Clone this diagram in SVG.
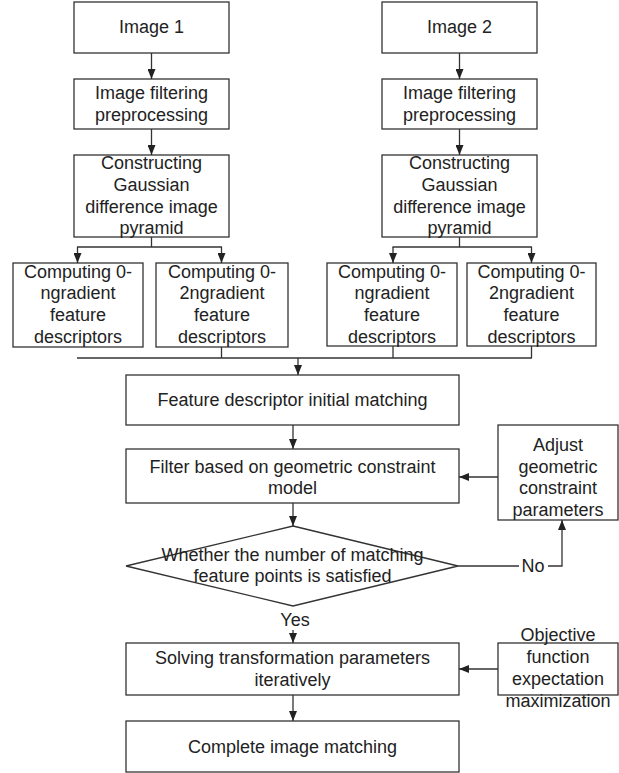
<svg xmlns="http://www.w3.org/2000/svg" width="619" height="773" viewBox="0 0 619 773">
<defs>
<marker id="ah" markerWidth="10" markerHeight="8" refX="10" refY="4" orient="auto" markerUnits="userSpaceOnUse">
<path d="M0,0 L10,4 L0,8 z" fill="#222"/>
</marker>
<style>
rect, polygon { fill: #fff; stroke: #333; stroke-width: 1.3; }
text { font-family: "Liberation Sans", Arial, sans-serif; font-size: 18px; fill: #222; text-anchor: middle; }
.c line, .c polyline { stroke: #333; stroke-width: 1.3; fill: none; }
.a { marker-end: url(#ah); }
</style>
</defs>
<rect x="0" y="0" width="619" height="773" style="fill:#fff;stroke:none"/>

<g id="image1"><rect x="74" y="2" width="155" height="51"/><text x="151.5" y="33">Image 1</text></g>
<g id="filter1"><rect x="74" y="79" width="155" height="50"/><text x="151.5" y="99">Image filtering</text><text x="151.5" y="121">preprocessing</text></g>
<g id="pyramid1"><rect x="74" y="155" width="155" height="82"/><text x="151.5" y="169">Constructing</text><text x="151.5" y="191">Gaussian</text><text x="151.5" y="213">difference image</text><text x="151.5" y="234">pyramid</text></g>
<g id="grad1a"><rect x="13" y="263" width="130" height="84"/><text x="78" y="278">Computing 0-</text><text x="78" y="299">ngradient</text><text x="78" y="321">feature</text><text x="78" y="343">descriptors</text></g>
<g id="grad1b"><rect x="156" y="263" width="132" height="84"/><text x="222" y="278">Computing 0-</text><text x="222" y="299">2ngradient</text><text x="222" y="321">feature</text><text x="222" y="343">descriptors</text></g>

<g id="image2"><rect x="382" y="2" width="155" height="51"/><text x="459.5" y="33">Image 2</text></g>
<g id="filter2"><rect x="382" y="79" width="155" height="50"/><text x="459.5" y="99">Image filtering</text><text x="459.5" y="121">preprocessing</text></g>
<g id="pyramid2"><rect x="382" y="155" width="155" height="82"/><text x="459.5" y="169">Constructing</text><text x="459.5" y="191">Gaussian</text><text x="459.5" y="213">difference image</text><text x="459.5" y="234">pyramid</text></g>
<g id="grad2a"><rect x="327" y="263" width="130" height="83"/><text x="392" y="278">Computing 0-</text><text x="392" y="299">ngradient</text><text x="392" y="321">feature</text><text x="392" y="343">descriptors</text></g>
<g id="grad2b"><rect x="467" y="263" width="129" height="83"/><text x="531.5" y="278">Computing 0-</text><text x="531.5" y="299">2ngradient</text><text x="531.5" y="321">feature</text><text x="531.5" y="343">descriptors</text></g>

<g id="initial"><rect x="126" y="375" width="333" height="50"/><text x="292.5" y="406">Feature descriptor initial matching</text></g>
<g id="geofilter"><rect x="126" y="449" width="333" height="54"/><text x="292.5" y="473">Filter based on geometric constraint</text><text x="292.5" y="494">model</text></g>
<g id="adjust"><rect x="498" y="425" width="120" height="95"/><text x="558" y="451">Adjust</text><text x="558" y="473">geometric</text><text x="558" y="494">constraint</text><text x="558" y="516">parameters</text></g>
<g id="decision"><polygon points="293,526 458,566 293,606 126,566"/><text x="292.5" y="561">Whether the number of matching</text><text x="292.5" y="582">feature points is satisfied</text></g>
<g id="solve"><rect x="126" y="643" width="333" height="52"/><text x="292.5" y="664">Solving transformation parameters</text><text x="292.5" y="686">iteratively</text></g>
<g id="objective"><rect x="498" y="643" width="120" height="52"/><text x="558" y="641">Objective</text><text x="558" y="663">function</text><text x="558" y="685">expectation</text><text x="558" y="707">maximization</text></g>
<g id="complete"><rect x="126" y="721" width="333" height="51"/><text x="292.5" y="753">Complete image matching</text></g>

<g id="connectors" class="c">
<line class="a" x1="151.5" y1="53" x2="151.5" y2="79"/>
<line class="a" x1="151.5" y1="129" x2="151.5" y2="155"/>
<line x1="151.5" y1="237" x2="151.5" y2="247"/>
<line x1="77" y1="247" x2="222" y2="247"/>
<line class="a" x1="77.5" y1="247" x2="77.5" y2="263"/>
<line class="a" x1="221.5" y1="247" x2="221.5" y2="263"/>
<line class="a" x1="459.5" y1="53" x2="459.5" y2="79"/>
<line class="a" x1="459.5" y1="129" x2="459.5" y2="155"/>
<line x1="459.5" y1="237" x2="459.5" y2="247"/>
<line x1="392.5" y1="247" x2="532" y2="247"/>
<line class="a" x1="393" y1="247" x2="393" y2="263"/>
<line class="a" x1="531.5" y1="247" x2="531.5" y2="263"/>
<line x1="221.5" y1="347" x2="221.5" y2="358"/>
<line x1="393" y1="346" x2="393" y2="358"/>
<line x1="531.5" y1="346" x2="531.5" y2="358"/>
<line x1="77" y1="358" x2="532" y2="358"/>
<line class="a" x1="298" y1="358" x2="298" y2="375"/>
<line class="a" x1="293" y1="425" x2="293" y2="449"/>
<line class="a" x1="293" y1="503" x2="293" y2="526"/>
<line class="a" x1="498" y1="477" x2="459" y2="477"/>
<line x1="458" y1="566" x2="519" y2="566"/>
<polyline class="a" points="548,566 562,566 562,520"/>
<text x="533" y="572">No</text>
<text x="295" y="626">Yes</text>
<line class="a" x1="293" y1="630" x2="293" y2="643"/>
<line class="a" x1="498" y1="669" x2="459" y2="669"/>
<line class="a" x1="293" y1="695" x2="293" y2="721"/>
</g>
</svg>
